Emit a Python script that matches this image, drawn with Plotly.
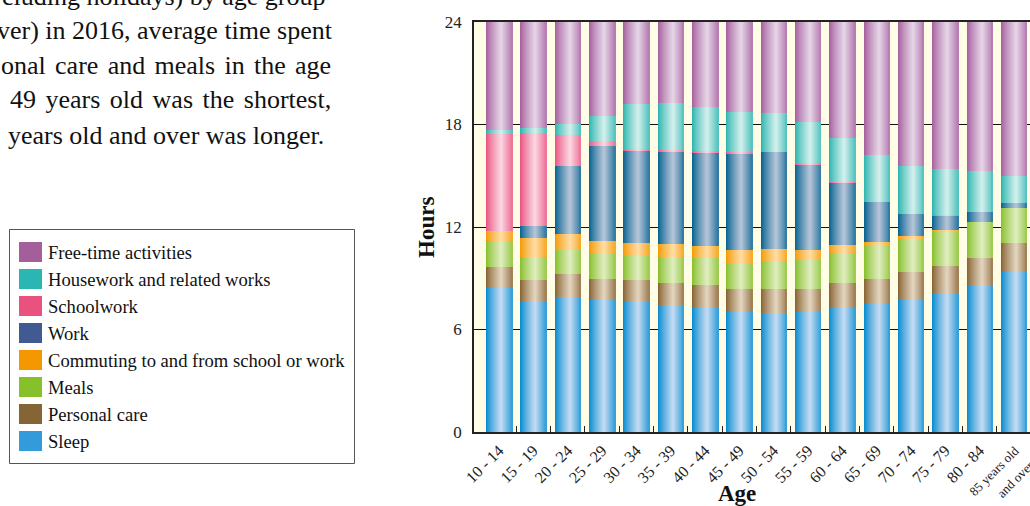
import plotly.graph_objects as go
import numpy as np

# ---------------- data (hours per day) ----------------
ages = ["10 - 14", "15 - 19", "20 - 24", "25 - 29", "30 - 34", "35 - 39", "40 - 44",
        "45 - 49", "50 - 54", "55 - 59", "60 - 64", "65 - 69", "70 - 74", "75 - 79",
        "80 - 84", "<span style='font-size:13px'>85 years old<br>and over</span>"]

sleep = [8.48, 7.66, 7.93, 7.77, 7.66, 7.46, 7.30, 7.07, 6.99, 7.07, 7.30, 7.58, 7.81, 8.13, 8.59, 9.41]
personal_care = [1.15, 1.21, 1.29, 1.21, 1.21, 1.29, 1.33, 1.33, 1.41, 1.33, 1.41, 1.40, 1.53, 1.56, 1.57, 1.63]
meals = [1.54, 1.40, 1.41, 1.48, 1.48, 1.52, 1.53, 1.52, 1.60, 1.64, 1.76, 1.88, 2.01, 2.07, 2.16, 2.10]
commuting = [0.57, 1.06, 0.94, 0.74, 0.74, 0.71, 0.70, 0.76, 0.74, 0.64, 0.45, 0.29, 0.10, 0.04, 0.00, 0.00]
work = [0.00, 0.70, 3.98, 5.57, 5.39, 5.45, 5.51, 5.63, 5.63, 5.00, 3.67, 2.29, 1.34, 0.90, 0.53, 0.24]
schoolwork = [5.68, 5.47, 1.84, 0.25, 0.06, 0.05, 0.06, 0.06, 0.00, 0.06, 0.04, 0.00, 0.00, 0.03, 0.00, 0.00]
housework = [0.24, 0.27, 0.63, 1.50, 2.64, 2.76, 2.57, 2.34, 2.28, 2.39, 2.56, 2.75, 2.76, 2.64, 2.40, 1.58]
free_time = [6.34, 6.23, 5.99, 5.46, 4.82, 4.76, 5.00, 5.29, 5.35, 5.87, 6.81, 7.81, 8.45, 8.63, 8.75, 9.04]

series_names = ["Sleep", "Personal care", "Meals", "Commuting to and from school or work",
                "Work", "Schoolwork", "Housework and related works", "Free-time activities"]
series_values = [sleep, personal_care, meals, commuting, work, schoolwork, housework, free_time]

y_ticks = [0, 6, 12, 18, 24]

paragraph_lines = ["cluding holidays) by age group",
                   "ver) in 2016, average time spent",
                   "onal care and meals in the age",
                   "49 years old was the shortest,",
                   "years old and over was longer."]

# ---------------- styles ----------------
dark = ["#0089CF", "#855F2E", "#84BE27", "#F39800", "#005F8E", "#E94F7E", "#27B3AD", "#A45C9B"]
light = ["#C6DCF3", "#E4D6C0", "#E0EEC0", "#FFDDA6", "#B8C6D9", "#FBD8E3", "#D5F0ED", "#E6D6E8"]
legend_col = ["#339BDA", "#866535", "#86C12A", "#F39800", "#415A92", "#E9527F", "#2BB6B3", "#A45E9C"]

FONT = "Liberation Serif, Times New Roman, serif"
W, H = 1030, 506
L, R, T, B = 474, 1030, 22, 432   # plot area in px


def hexrgb(h):
    h = h.lstrip("#")
    return np.array([int(h[i:i + 2], 16) for i in (0, 2, 4)], float)


def mix(c1, c2, f):
    c = hexrgb(c1) * (1 - f) + hexrgb(c2) * f
    return "rgb(%d,%d,%d)" % tuple(np.round(c).astype(int))


def shade(t):
    p = 0.58
    if t <= p:
        return (t / p) ** 0.85
    return 1 - 0.75 * ((t - p) / (1 - p))


def px(x):
    return (x - L) / (R - L)


def py(y):
    return (B - y) / (B - T)


fig = go.Figure()

bar_w = 0.76
N = 26
bottoms = np.zeros(len(ages))
for name, vals, dc, lc in zip(series_names, series_values, dark, light):
    vals = np.array(vals, float)
    for k in range(N):
        t = (k + 0.5) / N
        off = -bar_w / 2 + k * bar_w / N
        fig.add_trace(go.Bar(
            x=ages, y=vals, base=bottoms, width=bar_w - k * bar_w / N, offset=off,
            marker=dict(color=mix(dc, lc, shade(t)), line=dict(width=0)),
            name=name, showlegend=False, hoverinfo="skip" if k else "y+name",
        ))
    bottoms = bottoms + vals

n = len(ages)
fig.update_layout(
    width=W, height=H,
    margin=dict(l=L, r=W - R, t=T, b=H - B, autoexpand=False),
    paper_bgcolor="white", plot_bgcolor="#FFFDE6",
    barmode="overlay", bargap=0,
    font=dict(family=FONT, color="#222"),
    showlegend=False,
    xaxis=dict(type="category", range=[-0.728, 15.468], showline=True, linecolor="#222",
               linewidth=2, mirror=True, ticks="", tickangle=-45, automargin=False,
               ticklabelstandoff=1,
               tickfont=dict(size=16, family=FONT, color="#222"), showgrid=False),
    xaxis2=dict(overlaying="x", range=[-0.728, 15.468], tickvals=list(np.arange(0.5, n - 1, 1.0)),
                ticks="inside", ticklen=6, tickcolor="#222", tickwidth=1.2, automargin=False,
                showticklabels=False, showgrid=False, zeroline=False, side="bottom",
                anchor="y"),
    yaxis=dict(range=[0, 24], tickvals=y_ticks, showgrid=True, gridcolor="#111", gridwidth=1,
               showline=True, linecolor="#222", linewidth=1.5, zeroline=False, ticks="",
               automargin=False, ticklabelstandoff=7,
               tickfont=dict(size=17, family=FONT, color="#222")),
)
# invisible trace so xaxis2 renders
fig.add_trace(go.Scatter(x=[0], y=[0], xaxis="x2", mode="markers",
                         marker=dict(opacity=0), showlegend=False, hoverinfo="skip"))

ann = []
# axis titles
ann.append(dict(text="<b>Hours</b>", x=px(426), y=py(228), xref="paper", yref="paper",
                xanchor="center", yanchor="middle",
                showarrow=False, textangle=-90, font=dict(size=23, family=FONT, color="#111")))
ann.append(dict(text="<b>Age</b>", x=px(737), y=py(493.5), xref="paper", yref="paper",
                xanchor="center", yanchor="middle",
                showarrow=False, font=dict(size=23, family=FONT, color="#111")))

# paragraph text (justified, cut off at the left edge)
right_edges = [328, 335, 333, 333, 326]
centers = [-3, 30, 65, 100, 135]
word_gap = [0, 0, 2.8, 3.0, 0]
for txt, rx, cy, wg in zip(paragraph_lines, right_edges, centers, word_gap):
    t = "<span style='word-spacing:%.1fpx'>%s</span>" % (wg, txt) if wg else txt
    ann.append(dict(text=t, x=px(rx), y=py(cy), xref="paper", yref="paper", xanchor="right",
                    yanchor="middle", showarrow=False, font=dict(size=26, family=FONT, color="#111")))

# legend box
shapes = [dict(type="rect", xref="paper", yref="paper", x0=px(9.5), x1=px(354.5), y0=py(229.5),
               y1=py(463.5), line=dict(color="#555", width=1), fillcolor="white", layer="above")]
order = list(range(len(series_names)))[::-1]
for i, si in enumerate(order):
    top = 242 + 27 * i
    shapes.append(dict(type="rect", xref="paper", yref="paper", x0=px(19), x1=px(42), y0=py(top),
                       y1=py(top + 20), line=dict(width=0), fillcolor=legend_col[si], layer="above"))
    ann.append(dict(text=series_names[si], x=px(46), y=py(top + 10), xref="paper", yref="paper",
                    xanchor="left", yanchor="middle", showarrow=False,
                    font=dict(size=18.6, family=FONT, color="#111")))

fig.update_layout(annotations=ann, shapes=shapes)
fig.write_html("out.html", config={"displayModeBar": False},
               post_script="document.body.style.margin='0px';document.body.style.overflow='hidden';")
